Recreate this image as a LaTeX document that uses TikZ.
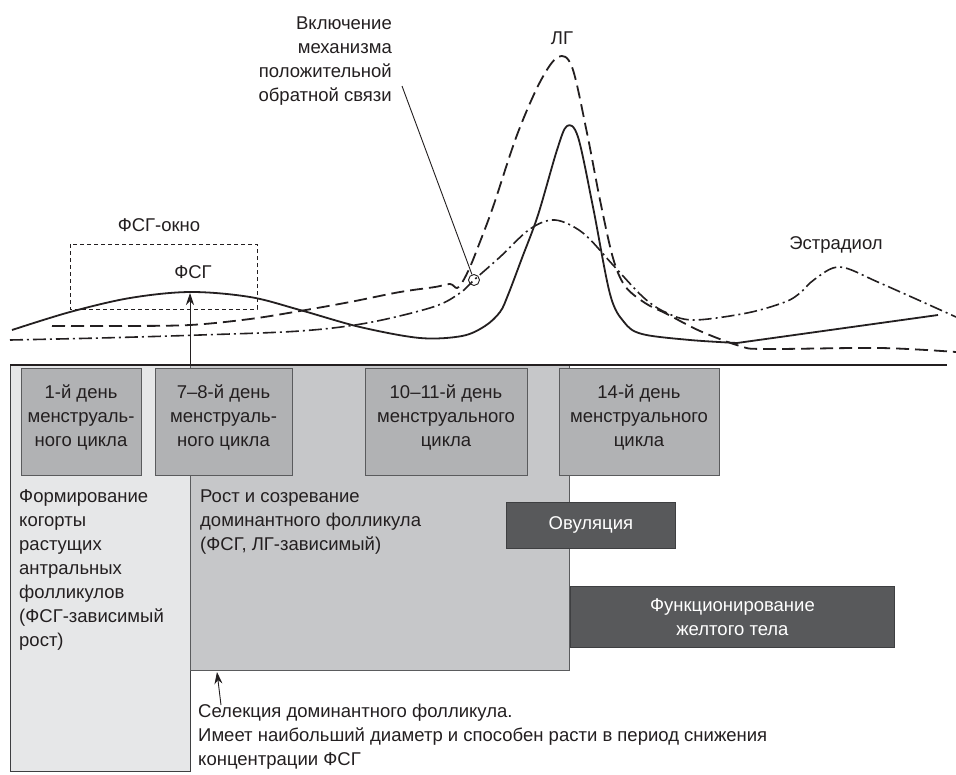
\documentclass[tikz,border=0pt]{standalone}
\usepackage{fontspec}
\setmainfont{Liberation Sans}
\usetikzlibrary{arrows.meta}
\definecolor{txt}{HTML}{231F20}
\definecolor{panellight}{HTML}{E6E7E8}
\definecolor{panelmid}{HTML}{C6C7C9}
\definecolor{dayfill}{HTML}{B1B2B4}
\definecolor{dayedge}{HTML}{5A5B5D}
\definecolor{darkfill}{HTML}{58595B}
\definecolor{darkedge}{HTML}{3E3F41}
\begin{document}
\begin{tikzpicture}[x=1pt,y=-1pt,
  font=\fontsize{18.5}{24}\selectfont, text=txt,
  lbl/.style={inner sep=0pt, align=center},
  lbll/.style={inner sep=0pt, align=left},
  lblr/.style={inner sep=0pt, align=right},
  panel/.style={draw=#1, line width=0.8pt, inner sep=0pt, anchor=north west},
  daybox/.style={fill=dayfill, draw=dayedge, line width=0.9pt, inner sep=0pt,
     minimum height=107pt, anchor=north west},
  darkbox/.style={fill=darkfill, draw=darkedge, line width=0.9pt, inner sep=0pt,
     anchor=north west, text=white, align=center},
  curve/.style={line width=1.8pt, txt, line join=round},
  lhline/.style={curve, dash pattern=on 13pt off 6pt},
  e2line/.style={curve, line width=1.6pt, dash pattern=on 13pt off 4pt on 2pt off 4pt},
  thinline/.style={line width=0.9pt, txt},
  tip/.style={-{Stealth[length=12pt,width=8pt]}}
]
\useasboundingbox (0,0) rectangle (956,774);
\fill[white] (0,0) rectangle (956,774);

% panels
\node[panel=darkedge, fill=panellight, minimum width=180pt, minimum height=406pt] (plight) at (10,365) {};
\node[panel=dayedge, fill=panelmid, minimum width=379pt, minimum height=305pt] (pmid) at (190,365) {};

% day boxes
\node[daybox, minimum width=120pt] (d1) at (21,368) {};
\node[daybox, minimum width=137pt] (d2) at (155,368) {};
\node[daybox, minimum width=162pt] (d3) at (365,368) {};
\node[daybox, minimum width=160pt] (d4) at (559,368) {};
\node[lbl, anchor=north] (t1) at (81,384.5) {1-й день\\менструаль-\\ного цикла};
\node[lbl, anchor=north] (t2) at (223.5,384.5) {7–8-й день\\менструаль-\\ного цикла};
\node[lbl, anchor=north] (t3) at (446,384.5) {10–11-й день\\менструального\\цикла};
\node[lbl, anchor=north] (t4) at (639,384.5) {14-й день\\менструального\\цикла};

% dark boxes
\node[darkbox, minimum width=169pt, minimum height=46pt] (ovul) at (506,502) {Овуляция};
\node[darkbox, minimum width=324pt, minimum height=61pt] (luteum) at (570,586) {Функционирование\\желтого тела};

% panel texts
\node[lbll, anchor=north west] (tform) at (19,489.5) {Формирование\\когорты\\растущих\\антральных\\фолликулов\\(ФСГ-зависимый\\рост)};
\node[lbll, anchor=north west] (tgrow) at (200,489.5) {Рост и созревание\\доминантного фолликула\\(ФСГ, ЛГ-зависимый)};
\node[lbll, anchor=north west] (tsel) at (198,703.8) {Селекция доминантного фолликула.\\Имеет наибольший диаметр и способен расти в период снижения\\концентрации ФСГ};

% FSH window
\draw[thinline, dash pattern=on 4pt off 3pt] (70,244) rectangle (257,309);
\node[lbl, anchor=north] (twin) at (159,218.8) {ФСГ-окно};
\node[lbl, anchor=north] (tfsh) at (193,265.8) {ФСГ};
\node[lbl, anchor=north] (tlh) at (562,31.8) {ЛГ};
\node[lbl, anchor=north] (te2) at (836,236.8) {Эстрадиол};
\node[lblr, anchor=north east] (tcall) at (392,16.8) {Включение\\механизма\\положительной\\обратной связи};

% curves
\draw[curve] plot[smooth, tension=0.55] coordinates {
 (12,330) (70,312) (130,298) (190,292) (250,297) (300,310) (360,327) (420,338)
 (462,336) (485,326) (500,312) (508,295) (522,258) (538,215) (557,150) (567,126)
 (578,137) (593,207) (610,294) (624,322) (642,334) (690,340) (737,343)};
\draw[curve] (737,343) -- (938,315);

\draw[lhline] plot[smooth, tension=0.55] coordinates {
 (52,326) (120,326) (190,325) (250,319) (300,311) (350,302) (400,292) (435,287)
 (450,284) (457,288) (463,281) (470,267) (478,247) (493,207) (517,135) (540,82)
 (558,57) (572,67) (587,133) (600,200) (613,258) (625,286) (645,303) (667,314)
 (700,331) (740,346) (765,349) (880,348) (956,352)};

\draw[e2line] plot[smooth, tension=0.55] coordinates {
 (10,340) (100,338) (200,335) (300,331) (367,323) (433,307) (460,293) (474,280)
 (500,257) (530,229) (555,220) (583,233) (613,265) (643,297) (665,312) (693,320)
 (747,313) (785,302) (800,293) (815,279) (840,267) (880,283) (956,317)};

% feedback circle and callout
\node[circle, draw=txt, line width=0.9pt, minimum size=11pt, inner sep=0pt] (fb) at (474,280) {};
\coordinate (cstart) at (402,86);
\draw[thinline] (cstart) -- (fb);

% axis
\coordinate (axl) at (10,365);
\coordinate (axr) at (947,365);
\draw[line width=2.6pt, txt] (axl) -- (axr);

% arrows
\coordinate (fshbase) at (190,364);
\coordinate (fshpeak) at (190,293);
\draw[thinline, tip] (fshbase) -- (fshpeak);
\coordinate (selfrom) at (221,705);
\coordinate (selto) at (217,672);
\draw[thinline, tip] (selfrom) -- (selto);
\end{tikzpicture}
\end{document}
